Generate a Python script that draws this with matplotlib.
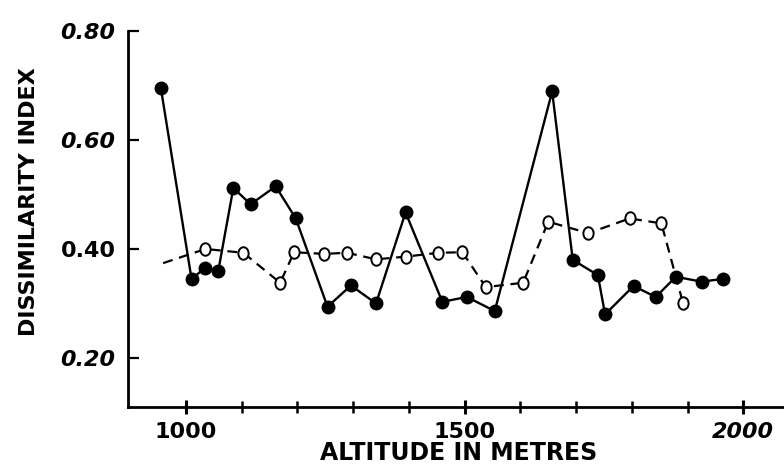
import matplotlib
matplotlib.use("Agg")
import matplotlib.pyplot as plt
from matplotlib.markers import MarkerStyle
from matplotlib.transforms import Affine2D

# ---- data ----
filled_alt = [955, 1010, 1034, 1058, 1085, 1116, 1161, 1197, 1254, 1296, 1341,
              1394, 1460, 1504, 1554, 1657, 1694, 1739, 1752, 1803, 1843, 1879,
              1925, 1963]
filled_val = [0.695, 0.345, 0.365, 0.360, 0.512, 0.482, 0.515, 0.456, 0.294,
              0.333, 0.300, 0.467, 0.303, 0.312, 0.286, 0.689, 0.380, 0.352,
              0.280, 0.332, 0.312, 0.349, 0.340, 0.345]

open_alt = [959, 1035, 1103, 1169, 1194, 1248, 1289, 1341, 1395, 1453, 1496,
            1538, 1605, 1650, 1722, 1796, 1853, 1892]
open_val = [0.374, 0.400, 0.393, 0.338, 0.394, 0.391, 0.393, 0.381, 0.386,
            0.393, 0.394, 0.330, 0.338, 0.450, 0.429, 0.456, 0.447, 0.300]

x_major = [1000, 1500, 2000]
x_major_labels = ["1000", "1500", "2000"]
x_minor = [1100, 1200, 1300, 1400, 1600, 1700, 1800, 1900]
y_ticks = [0.20, 0.40, 0.60, 0.80]
y_tick_labels = ["0.20", "0.40", "0.60", "0.80"]

x_label = "ALTITUDE IN METRES"
y_label = "DISSIMILARITY INDEX"

# ---- figure ----
W, H = 784, 471
fig = plt.figure(figsize=(W / 100, H / 100), dpi=100)
ax = fig.add_axes([128 / W, (H - 407) / H, (W - 128) / W, (407 - 31) / H])
ax.set_xlim(896, 2073)
ax.set_ylim(0.11, 0.80)

for s in ("top", "right"):
    ax.spines[s].set_visible(False)
for s in ("left", "bottom"):
    ax.spines[s].set_linewidth(2.0)

# dashed series with open (slightly narrow) circles
open_marker = MarkerStyle("o", transform=Affine2D().scale(0.82, 1.0))
ax.plot(open_alt, open_val, color="black", lw=1.6, linestyle=(0, (4.5, 3)),
        marker=open_marker, markersize=9, markerfacecolor="white",
        markeredgecolor="black", markeredgewidth=1.4,
        markevery=list(range(1, len(open_alt))), clip_on=False, zorder=3)

# solid series with filled circles
ax.plot(filled_alt, filled_val, color="black", lw=1.7, linestyle="-",
        marker="o", markersize=9, markerfacecolor="black",
        markeredgecolor="black", clip_on=False, zorder=4)

tick_font = dict(family="DejaVu Sans", weight="bold", size=16)

ax.set_xticks(x_major)
ax.set_xticklabels(x_major_labels, **tick_font)
ax.set_xticks(x_minor, minor=True)
ax.set_yticks(y_ticks)
ax.set_yticklabels(y_tick_labels, **tick_font)

for lbl in ax.get_yticklabels():
    if lbl.get_text() != "0.40":
        lbl.set_style("italic")
for lbl in ax.get_xticklabels():
    if lbl.get_text() == "2000":
        lbl.set_style("italic")

ax.tick_params(axis="x", which="major", direction="inout", length=10, width=2.2, pad=6)
ax.tick_params(axis="x", which="minor", direction="inout", length=8, width=1.8)
ax.tick_params(axis="y", which="major", direction="in", length=8, width=1.6, pad=9)

fig.text(459 / W, 1 - 453 / H, x_label, ha="center", va="center",
         family="DejaVu Sans", weight="bold", fontsize=17)
fig.text(29.5 / W, 1 - 202 / H, y_label, ha="center", va="center", rotation=90,
         family="DejaVu Sans", weight="bold", fontsize=16)

fig.savefig("out.png", dpi=100)
